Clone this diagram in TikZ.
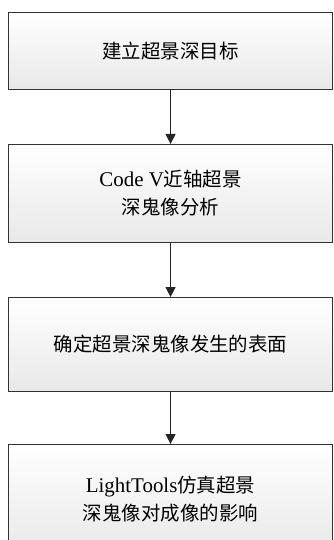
\documentclass[tikz,border=0pt]{standalone}
\usepackage{fontspec}
\setmainfont{Liberation Serif}
\newfontfamily\cjk{Noto Sans CJK SC}[Scale=0.93]
\usetikzlibrary{arrows.meta}
\begin{document}
\begin{tikzpicture}[x=1bp,y=-1bp,
  stepbox/.style={draw=black!80, line width=1.1bp, top color=white, bottom color=black!9,
    minimum width=324bp, inner sep=0pt, align=center, font=\fontsize{21}{28}\selectfont, anchor=north west},
  flow/.style={draw=black!85, line width=1.1bp, -{Triangle[length=10bp,width=10bp]}}]
\useasboundingbox (0,0) rectangle (333,540);
\node[stepbox, minimum height=77bp] (a) at (8,12) {\cjk 建立超景深目标};
\node[stepbox, minimum height=98bp] (b) at (8,144) {Code V\cjk 近轴超景\\\cjk 深鬼像分析};
\node[stepbox, minimum height=94bp] (c) at (8,297) {\cjk 确定超景深鬼像发生的表面};
\node[stepbox, minimum height=110bp] (d) at (8,444) {LightTools\cjk 仿真超景\\\cjk 深鬼像对成像的影响};
\draw[flow] (a.south) -- (b.north);
\draw[flow] (b.south) -- (c.north);
\draw[flow] (c.south) -- (d.north);
\end{tikzpicture}
\end{document}
